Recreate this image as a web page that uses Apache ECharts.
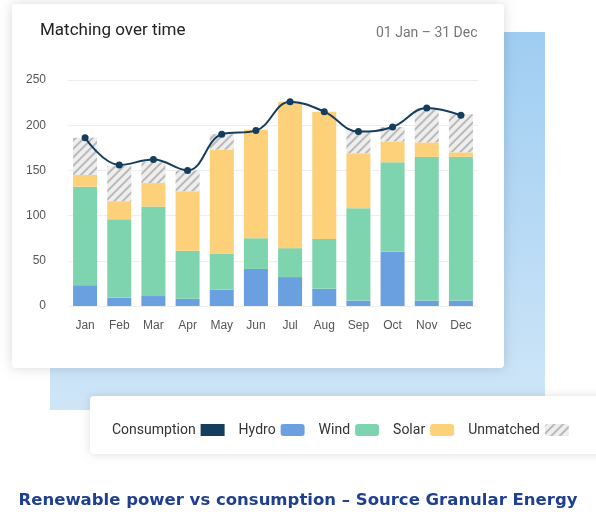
<!DOCTYPE html><html><head><meta charset="utf-8">
<script src="https://cdn.jsdelivr.net/npm/echarts@6/dist/echarts.min.js"></script>
<style>html,body{margin:0;padding:0;background:#fff}#c{width:596px;height:525px}</style></head><body><div id="c"></div>
<script>
const months=['Jan','Feb','Mar','Apr','May','Jun','Jul','Aug','Sep','Oct','Nov','Dec'];
const hydro=[23,9,11,8,18,41,32,19,6,60,6,6];
const windTop=[132,96,110,61,58,75,64,74,108,159,165,165];
const solarTop=[145,116,136,127,173,195,226,215,169,182,181,170];
const totalTop=[186,155,159,150,190,195,226,215,194,198,219,212];
const consumption=[186,156,162,150,190,194,226,215,193,198,219,211];
const wind=windTop.map((v,i)=>v-hydro[i]);
const solar=solarTop.map((v,i)=>v-windTop[i]);
const unmatched=totalTop.map((v,i)=>v-solarTop[i]);
const ch=echarts.init(document.getElementById('c'));
const decal={symbol:'rect',dashArrayX:[1,0],dashArrayY:[2,4],rotation:-Math.PI/4,color:'rgba(150,150,150,0.6)',symbolSize:1};
ch.setOption({
 animation:false,
 graphic:[
  {type:'rect',z:-10,shape:{x:50,y:32,width:495,height:378},style:{fill:{type:'linear',x:0,y:0,x2:0,y2:1,colorStops:[{offset:0,color:'#9fcdf2'},{offset:1,color:'#cfe6f8'}]}}},
  {type:'rect',z:-9,shape:{x:12,y:4,width:492,height:364,r:4},style:{fill:'#fff',shadowBlur:12,shadowColor:'rgba(0,0,0,0.15)'}},
  {type:'rect',z:-9,shape:{x:90,y:396,width:520,height:58,r:4},style:{fill:'#fff',shadowBlur:10,shadowColor:'rgba(0,0,0,0.12)'}},
  {type:'text',left:40,top:22,style:{text:'Matching over time',fill:'#222',font:'17px Roboto'}},
  {type:'text',left:376,top:26,style:{text:'01 Jan – 31 Dec',fill:'#777',font:'14px Roboto'}},
  {type:'text',left:'center',top:492,style:{text:'Renewable power vs consumption – Source Granular Energy',fill:'#1f3f8f',font:'bold 16.5px "DejaVu Sans"'}}
 ],
 legend:{left:107,top:418,width:600,align:'right',itemGap:14,itemWidth:24,itemHeight:12,textStyle:{fontSize:14,color:'#333',fontFamily:'Roboto'},
  data:[{name:'Consumption',icon:'rect'},{name:'Hydro'},{name:'Wind'},{name:'Solar'},{name:'Unmatched'}]},
 grid:{left:68,right:118,top:80,bottom:219},
 xAxis:{type:'category',data:months,axisLine:{show:false},axisTick:{show:false},axisLabel:{color:'#555',fontSize:12,margin:14}},
 yAxis:{type:'value',min:0,max:250,interval:50,axisLabel:{color:'#555',fontSize:12,margin:22},splitLine:{lineStyle:{color:'#eee'}}},
 series:[
  {name:'Hydro',type:'bar',stack:'a',data:hydro,barWidth:24,itemStyle:{color:'#6a9fe0'}},
  {name:'Wind',type:'bar',stack:'a',data:wind,itemStyle:{color:'#7fd4b0'}},
  {name:'Solar',type:'bar',stack:'a',data:solar,itemStyle:{color:'#fdd07a'}},
  {name:'Unmatched',type:'bar',stack:'a',data:unmatched,itemStyle:{color:'#eeeeee',decal:decal}},
  {name:'Consumption',type:'line',data:consumption,smooth:0.4,symbol:'circle',symbolSize:7,lineStyle:{color:'#143d5e',width:2},itemStyle:{color:'#143d5e'},z:5}
 ]
});
</script></body></html>
